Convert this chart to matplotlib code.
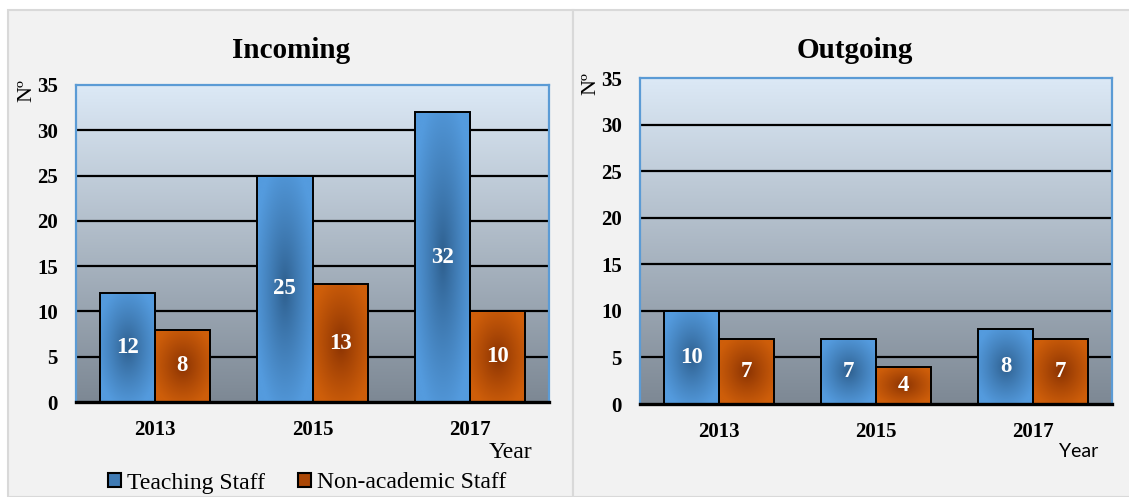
import numpy as np
import matplotlib.pyplot as plt
from matplotlib.patches import Rectangle, Patch

# Data
YEARS = ['2013', '2015', '2017']
INCOMING_TEACHING = [12, 25, 32]
INCOMING_NONACAD = [8, 13, 10]
OUTGOING_TEACHING = [10, 7, 8]
OUTGOING_NONACAD = [7, 4, 7]
SERIES_NAMES = ['Teaching Staff', 'Non-academic Staff']

SERIF = 'Liberation Serif'
SANS = 'Lato'
BLUE_EDGE = np.array([84, 155, 222]) / 255
BLUE_CENTER = np.array([44, 92, 138]) / 255
ORANGE_EDGE = np.array([206, 94, 10]) / 255
ORANGE_CENTER = np.array([134, 48, 2]) / 255
BAR_WIDTH = 0.35


def background_gradient(ax):
    top = np.array([220, 233, 246]) / 255
    bottom = np.array([125, 136, 148]) / 255
    t = np.linspace(0, 1, 256)[:, None]
    img = top * (1 - t[..., None]) + bottom * t[..., None]
    ax.imshow(img, extent=(0, 1, 0, 1), transform=ax.transAxes,
              aspect='auto', zorder=0, interpolation='bilinear')


def gradient_bar(ax, x, h, edge_col, center_col):
    """Bar with a darker centre, like the Excel 'from centre' fill."""
    bar = ax.bar(x, h, BAR_WIDTH, facecolor='none', edgecolor='black',
                 linewidth=1.4, zorder=4)[0]
    nx, ny = 60, 200
    u = np.linspace(-1, 1, nx)[None, :]
    v = np.linspace(-1, 1, ny)[:, None]
    t = np.clip(np.sqrt(u ** 2 + v ** 2) / 1.15, 0, 1) ** 0.8
    img = center_col * (1 - t[..., None]) + edge_col * t[..., None]
    im = ax.imshow(img, extent=(x - BAR_WIDTH / 2, x + BAR_WIDTH / 2, 0, h),
                   aspect='auto', zorder=3, interpolation='bilinear')
    im.set_clip_path(bar)
    return bar


def draw_panel(ax, teaching, nonacad, title_x, title, nlabel_xy, year_xy, year_font):
    background_gradient(ax)
    x = np.arange(len(YEARS))
    for i in x:
        for val, off, ec, cc in [(teaching[i], -BAR_WIDTH / 2, BLUE_EDGE, BLUE_CENTER),
                                 (nonacad[i], BAR_WIDTH / 2, ORANGE_EDGE, ORANGE_CENTER)]:
            gradient_bar(ax, i + off, val, ec, cc)
            ax.text(i + off, val / 2, str(val), ha='center', va='center',
                    color='white', fontsize=16.5, fontweight='bold',
                    family=SERIF, zorder=5)

    ax.set_xlim(-0.5, 2.5)
    ax.set_ylim(0, 35)
    ax.set_yticks(range(0, 36, 5))
    ax.set_xticks(x)
    ax.set_xticklabels(YEARS)
    for lab in ax.get_xticklabels() + ax.get_yticklabels():
        lab.set_family(SERIF)
        lab.set_fontweight('bold')
        lab.set_fontsize(15)
    ax.tick_params(axis='both', length=0)
    ax.tick_params(axis='y', pad=13)
    ax.tick_params(axis='x', pad=13)
    for yv in range(5, 35, 5):
        ax.axhline(yv, color='black', lw=1.6, zorder=1)
    for s in ['left', 'right', 'top']:
        ax.spines[s].set_color('#5b9bd5')
        ax.spines[s].set_linewidth(1.6)
    ax.spines['bottom'].set_color('black')
    ax.spines['bottom'].set_linewidth(2.4)
    ax.spines['bottom'].set_zorder(6)

    ax.text(nlabel_xy[0], nlabel_xy[1], 'Nº', rotation=90, transform=ax.transAxes,
            ha='center', va='center', fontsize=16, family=SERIF)
    ax.text(year_xy[0], year_xy[1], 'Year', transform=ax.transAxes,
            ha='center', va='center', fontsize=17 if year_font == SERIF else 14,
            family=year_font)
    ax.figure.text(title_x, 0.899, title, ha='center', va='center',
                   fontsize=21, fontweight='bold', family=SERIF)


W, H = 1129, 497
fig = plt.figure(figsize=(W / 100, H / 100), dpi=100)
fig.patch.set_facecolor('white')

# panel frames, kept behind the axes
fig.add_artist(Rectangle((8 / W, 0), (573 - 8) / W, 1 - 10 / H, transform=fig.transFigure,
                         facecolor='#f2f2f2', edgecolor='#d9d9d9', lw=1.5, zorder=-2))
fig.add_artist(Rectangle((573 / W, 0), (1140 - 573) / W, 1 - 10 / H, transform=fig.transFigure,
                         facecolor='#f2f2f2', edgecolor='#d9d9d9', lw=1.5, zorder=-2))

ax1 = fig.add_axes([76 / W, 1 - 402 / H, (549 - 76) / W, (402 - 85) / H])
ax2 = fig.add_axes([640 / W, 1 - 404 / H, (1112 - 640) / W, (404 - 78) / H])

draw_panel(ax1, INCOMING_TEACHING, INCOMING_NONACAD, 291 / W, 'Incoming',
           (-0.104, 0.981), (0.918, -0.158), SERIF)
draw_panel(ax2, OUTGOING_TEACHING, OUTGOING_NONACAD, 855 / W, 'Outgoing',
           (-0.104, 0.982), (0.93, -0.147), SANS)

handles = [Patch(facecolor=(BLUE_EDGE + BLUE_CENTER) / 2, edgecolor='black', lw=1.5),
           Patch(facecolor=(ORANGE_EDGE + ORANGE_CENTER) / 2, edgecolor='black', lw=1.5)]
fig.legend(handles, SERIES_NAMES, loc='center', bbox_to_anchor=(307 / W, 1 - 483 / H),
           ncol=2, frameon=False, prop={'family': SERIF, 'size': 17},
           handlelength=0.55, handleheight=0.55, handletextpad=0.25, columnspacing=1.4,
           borderaxespad=0)

fig.savefig('out.png', dpi=100, facecolor=fig.get_facecolor())
